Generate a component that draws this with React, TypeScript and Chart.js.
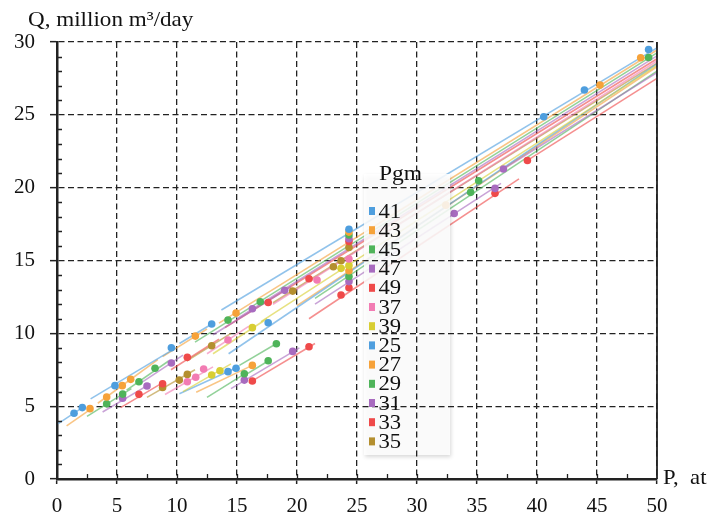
import React, { useEffect, useRef } from 'react';
import { Chart, registerables } from 'chart.js';
Chart.register(...registerables);

const PGM = ['41', '43', '45', '47', '49', '37', '39', '25', '27', '29', '31', '33', '35'];
const COLORS = ['#4e9ede', '#f6a23a', '#4fb45a', '#a86bbf', '#ef4a4a', '#f27cb3', '#d8ce33',
  '#4e9ede', '#f6a23a', '#4fb45a', '#a86bbf', '#ef4a4a', '#b48f2f'];

const X_TICKS = [0, 5, 10, 15, 20, 25, 30, 35, 40, 45, 50];
const Y_TICKS = [0, 5, 10, 15, 20, 25, 30];

// measured points (P, at ; Q, million m3/day)
const P41 = [4.83, 9.53, 12.89, 24.33, 40.56, 43.95, 49.3];
const Q41 = [6.41, 9.01, 10.64, 17.15, 24.87, 26.7, 29.49];
const P43 = [4.14, 5.44, 6.14, 11.53, 14.92, 24.33, 45.25, 48.64];
const Q43 = [5.63, 6.41, 6.84, 9.81, 11.39, 16.95, 27.04, 28.92];
const P45 = [6.83, 8.17, 14.25, 16.94, 17.6, 24.33, 49.3];
const Q45 = [6.68, 7.6, 10.91, 12.17, 8.12, 16.75, 28.94];
const P47 = [9.53, 16.28, 18.97, 24.33, 37.2];
const Q47 = [7.96, 11.69, 12.95, 16.5, 21.28];
const P49 = [10.86, 17.6, 21.0, 24.33, 39.2];
const Q49 = [8.35, 12.12, 13.75, 16.3, 21.87];
const P37 = [10.86, 11.56, 12.22, 14.25, 21.67, 24.33];
const Q37 = [6.68, 6.98, 7.55, 9.54, 13.66, 15.1];
const P39 = [12.89, 13.58, 16.28, 23.67, 24.33];
const Q39 = [7.14, 7.43, 10.39, 14.46, 14.65];
const P25 = [1.42, 2.11, 14.25, 14.92, 17.6];
const Q25 = [4.51, 4.9, 7.37, 7.6, 10.73];
const P27 = [2.75, 16.28, 24.33, 32.4];
const Q27 = [4.83, 7.8, 14.3, 18.8];
const P29 = [4.14, 5.47, 15.61, 18.28, 24.33, 34.47, 35.14];
const Q29 = [5.17, 5.83, 7.23, 9.29, 13.9, 19.68, 20.47];
const P31 = [5.47, 7.5, 15.61, 19.64, 24.33, 33.1, 36.5];
const Q31 = [5.54, 6.38, 6.79, 8.76, 13.55, 18.23, 19.95];
const P33 = [6.83, 8.8, 16.28, 21.0, 23.67, 24.33, 36.5];
const Q33 = [5.81, 6.54, 6.73, 9.08, 12.63, 13.13, 19.61];
const P35 = [8.8, 10.19, 10.86, 12.89, 19.64, 23.03, 23.67, 24.33];
const Q35 = [6.29, 6.79, 7.18, 9.15, 12.9, 14.57, 14.98, 15.9];

// trend-line segments [P1, Q1, P2, Q2]
const T41 = [[2.8, 5.5, 9.9, 9.0], [10.2, 9.3, 12.9, 10.64], [13.7, 11.6, 50, 29.6]];
const T43 = [[3.4, 5.2, 8.4, 8.2], [8.8, 8.4, 12.5, 10.3], [13.5, 10.7, 50, 29.45]];
const T45 = [[5.8, 6.1, 9.3, 8.1], [15.6, 7.1, 17.8, 8.2], [11.5, 9.4, 50, 29.25]];
const T47 = [[7.0, 6.6, 10.5, 8.5], [13.0, 9.9, 19.5, 13.2], [15.0, 11.0, 50, 29.05], [37.2, 21.28, 50, 27.9]];
const T49 = [[9.5, 7.5, 13.5, 9.6], [14.0, 10.4, 50, 28.85], [39.2, 21.87, 50, 27.5]];
const T37 = [[9.0, 5.8, 13.0, 7.7], [12.5, 8.6, 16.0, 10.5], [18.0, 12.0, 50, 28.7]];
const T39 = [[10.5, 6.0, 14.5, 7.9], [13.0, 8.6, 17.5, 11.0], [17.0, 10.8, 50, 28.4]];
const T25 = [[0.1, 3.8, 2.3, 5.0], [10.2, 5.85, 15.0, 7.65], [14.3, 8.6, 50, 28.5]];
const T27 = [[0.8, 3.65, 2.9, 4.85], [11.6, 5.95, 16.4, 7.85], [20.0, 11.9, 50, 28.3]];
const T29 = [[2.5, 4.3, 6.2, 6.2], [12.5, 5.6, 15.8, 7.3], [15.2, 7.8, 18.3, 9.3], [21.5, 12.4, 50, 28.0]];
const T31 = [[3.8, 4.6, 7.8, 6.55], [14.5, 6.2, 20.2, 9.0], [21.5, 12.0, 37.0, 20.3]];
const T33 = [[5.3, 4.9, 9.0, 6.7], [16.0, 6.6, 21.5, 9.3], [21.0, 11.0, 38.5, 20.6]];
const T35 = [[7.5, 5.6, 11.5, 7.5], [10.8, 8.1, 14.5, 10.0], [18.0, 12.1, 50, 28.55]];

const SERIES = [
  { p: P41, q: Q41, t: T41 }, { p: P43, q: Q43, t: T43 }, { p: P45, q: Q45, t: T45 },
  { p: P47, q: Q47, t: T47 }, { p: P49, q: Q49, t: T49 }, { p: P37, q: Q37, t: T37 },
  { p: P39, q: Q39, t: T39 }, { p: P25, q: Q25, t: T25 }, { p: P27, q: Q27, t: T27 },
  { p: P29, q: Q29, t: T29 }, { p: P31, q: Q31, t: T31 }, { p: P33, q: Q33, t: T33 },
  { p: P35, q: Q35, t: T35 },
];

const SERIF = "'Liberation Serif', 'Times New Roman', Times, serif";

function hexA(hex: string, a: number) {
  const n = parseInt(hex.slice(1), 16);
  return `rgba(${(n >> 16) & 255},${(n >> 8) & 255},${n & 255},${a})`;
}

const decor = {
  id: 'decor',
  afterDatasetsDraw(chart: any) {
    const { ctx, chartArea: a, scales } = chart;
    const x = scales.x, y = scales.y;
    ctx.save();
    ctx.setLineDash([]);
    ctx.strokeStyle = '#222';
    ctx.lineWidth = 1.8;
    ctx.beginPath();
    ctx.moveTo(a.right, a.top);
    ctx.lineTo(a.right, a.bottom);
    ctx.stroke();
    ctx.lineWidth = 1.3;
    ctx.beginPath();
    for (let v = 1; v < 30; v++) {
      if (v % 5 === 0) continue;
      const py = Math.round(y.getPixelForValue(v)) + 0.5;
      ctx.moveTo(a.left, py);
      ctx.lineTo(a.left + 5, py);
    }
    for (let v = 2.5; v < 50; v += 2.5) {
      const px = Math.round(x.getPixelForValue(v)) + 0.5;
      ctx.moveTo(px, a.bottom);
      ctx.lineTo(px, a.bottom - 5);
    }
    ctx.stroke();

    const L = { left: 364, top: 174, w: 86, h: 281 };
    ctx.save();
    ctx.shadowColor = 'rgba(0,0,0,0.18)';
    ctx.shadowBlur = 4;
    ctx.shadowOffsetX = 1;
    ctx.shadowOffsetY = 2;
    ctx.fillStyle = 'rgba(255,255,255,0.86)';
    ctx.fillRect(L.left, L.top, L.w, L.h);
    ctx.restore();
    ctx.save();
    ctx.beginPath();
    ctx.rect(L.left, L.top, L.w, L.h);
    ctx.clip();
    x.drawGrid(a);
    y.drawGrid(a);
    ctx.restore();

    ctx.fillStyle = '#111';
    ctx.font = `21px ${SERIF}`;
    ctx.textBaseline = 'alphabetic';
    ctx.textAlign = 'left';
    ctx.save();
    ctx.translate(379, 180);
    ctx.scale(1.12, 1);
    ctx.fillText('Pgm', 0, 0);
    ctx.restore();
    PGM.forEach((lab, i) => {
      const cy = 211 + i * 19.2;
      ctx.fillStyle = COLORS[i];
      ctx.fillRect(369, cy - 4, 6, 8);
      ctx.fillStyle = '#111';
      ctx.save();
      ctx.translate(378.5, cy + 6.5);
      ctx.scale(1.08, 1);
      ctx.fillText(lab, 0, 0);
      ctx.restore();
    });
    ctx.restore();
  },
  afterDraw(chart: any) {
    const { ctx } = chart;
    ctx.save();
    ctx.fillStyle = '#111';
    ctx.font = `21px ${SERIF}`;
    ctx.textBaseline = 'alphabetic';
    ctx.textAlign = 'left';
    ctx.save();
    ctx.translate(28, 26);
    ctx.scale(1.1, 1);
    ctx.fillText('Q, million m³/day', 0, 0);
    ctx.restore();
    ctx.save();
    ctx.translate(663, 484);
    ctx.scale(1.08, 1);
    ctx.fillText('P,  at', 0, 0);
    ctx.restore();
    ctx.restore();
  },
};

export default function App() {
  const ref = useRef<HTMLCanvasElement | null>(null);
  useEffect(() => {
    if (!ref.current) return;
    const datasets: any[] = [];
    SERIES.forEach((s, i) => {
      datasets.push({
        type: 'scatter',
        label: PGM[i],
        data: s.p.map((px, j) => ({ x: px, y: s.q[j] })),
        backgroundColor: COLORS[i],
        borderWidth: 0,
        pointRadius: 3.8,
        order: 0,
      });
      s.t.forEach((seg) => {
        datasets.push({
          type: 'line',
          label: '',
          data: [{ x: seg[0], y: seg[1] }, { x: seg[2], y: seg[3] }],
          borderColor: hexA(COLORS[i], 0.62),
          borderWidth: 1.6,
          pointRadius: 0,
          fill: false,
          order: 1,
        });
      });
    });
    const gridCommon = {
      color: '#222',
      lineWidth: 1.3,
      drawTicks: true,
      tickColor: '#222',
      tickWidth: 1.5,
    };
    const chart = new Chart(ref.current, {
      type: 'scatter',
      data: { datasets },
      options: {
        responsive: false,
        animation: false,
        layout: { padding: { left: 0, top: 42, right: 60, bottom: 0 } },
        plugins: { legend: { display: false }, tooltip: { enabled: false } },
        scales: {
          x: {
            type: 'linear',
            min: 0,
            max: 50,
            afterFit: (s: any) => { s.height = 36; },
            afterBuildTicks: (s: any) => { s.ticks = X_TICKS.map((v) => ({ value: v })); },
            grid: { ...gridCommon, tickLength: 5 },
            border: { display: true, color: '#222', width: 2.5, dash: [6, 3.5] },
            ticks: { color: '#111', padding: 10, font: { family: SERIF, size: 21 }, maxRotation: 0 },
          },
          y: {
            type: 'linear',
            min: 0,
            max: 30,
            afterFit: (s: any) => { s.width = 57; },
            afterBuildTicks: (s: any) => { s.ticks = Y_TICKS.map((v) => ({ value: v })); },
            grid: { ...gridCommon, tickLength: 7 },
            border: { display: true, color: '#222', width: 2.5, dash: [6, 3.5] },
            ticks: { color: '#111', padding: 15, font: { family: SERIF, size: 21 } },
          },
        },
      },
      plugins: [decor],
    } as any);
    return () => chart.destroy();
  }, []);
  return (
    <canvas
      ref={ref}
      width={717}
      height={515}
      style={{ position: 'absolute', left: 0, top: 0, width: '717px', height: '515px' }}
    />
  );
}
